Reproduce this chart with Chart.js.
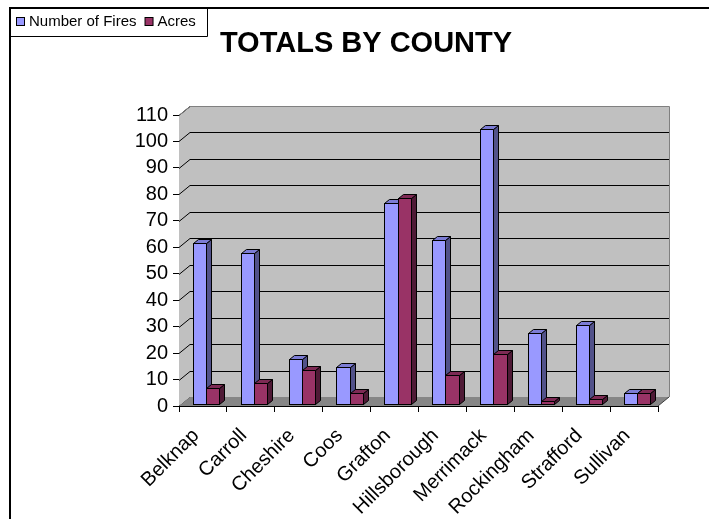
<!DOCTYPE html>
<html><head><meta charset="utf-8">
<script src="https://cdn.jsdelivr.net/npm/chart.js@4.4.0/dist/chart.umd.min.js"></script>
<style>html,body{margin:0;padding:0;background:#fff;}canvas{display:block;}</style>
</head><body>
<canvas id="c" width="709" height="519"></canvas>
<script>
const categories = ['Belknap','Carroll','Cheshire','Coos','Grafton','Hillsborough','Merrimack','Rockingham','Strafford','Sullivan'];
const numberOfFires = [61, 57, 17, 14, 76, 62, 104, 27, 30, 4];
const acres = [6, 8, 13, 4, 78, 11, 19, 1, 2, 4];
const seriesNames = ['Number of Fires', 'Acres'];
const yMin = 0, yMax = 110, yStep = 10;
const chartTitle = 'TOTALS BY COUNTY';

const FRONT = ['#9999FF', '#993366'];
const SIDE = ['#52528a', '#4f1a36'];
const TOP = ['#7c7cd4', '#7d2a54'];
const DEPTH = {x: 11, y: -9};
const BAR_DEPTH = {x: 5, y: -4};
const BAR_SHIFT = {x: 3, y: -2};
const FONT = '"Liberation Sans", Arial, sans-serif';

const scenePlugin = {
  id: 'scene',
  beforeDatasetsDraw(chart) {
    const {ctx, chartArea: a, scales: {y}} = chart;
    const L = a.left, R = a.right, T = a.top, B = a.bottom, dx = DEPTH.x, dy = DEPTH.y;
    ctx.save();
    ctx.fillStyle = '#C0C0C0';
    ctx.beginPath(); ctx.moveTo(L, B); ctx.lineTo(L, T); ctx.lineTo(L + dx, T + dy); ctx.lineTo(L + dx, B + dy); ctx.closePath(); ctx.fill();
    ctx.fillRect(L + dx, T + dy, R - L, B - T);
    ctx.strokeStyle = '#000'; ctx.lineWidth = 1;
    y.ticks.forEach(t => {
      const py = Math.round(y.getPixelForValue(t.value)) + 0.5;
      ctx.beginPath(); ctx.moveTo(L, py); ctx.lineTo(L + dx, py + dy); ctx.lineTo(R + dx, py + dy); ctx.stroke();
    });
    ctx.strokeStyle = '#808080';
    ctx.beginPath(); ctx.moveTo(L, T + 0.5); ctx.lineTo(L + dx, T + dy + 0.5); ctx.lineTo(R + dx + 0.5, T + dy + 0.5); ctx.lineTo(R + dx + 0.5, B + dy); ctx.stroke();
    ctx.fillStyle = '#868686';
    ctx.beginPath(); ctx.moveTo(L, B); ctx.lineTo(R, B); ctx.lineTo(R + dx, B + dy); ctx.lineTo(L + dx, B + dy); ctx.closePath(); ctx.fill();
    ctx.strokeStyle = '#404040';
    ctx.beginPath(); ctx.moveTo(R, B); ctx.lineTo(R + dx, B + dy); ctx.stroke();

    ctx.translate(BAR_SHIFT.x, BAR_SHIFT.y);
    const metas = [chart.getDatasetMeta(0), chart.getDatasetMeta(1)];
    for (let k = 0; k < categories.length; k++) {
      metas.forEach((meta, i) => {
        const bar = meta.data[k];
        const {x, y: top, base, width} = bar.getProps(['x', 'y', 'base', 'width'], true);
        const l = Math.round(x - width / 2) + 0.5, r = Math.round(x + width / 2) + 0.5;
        const t = Math.round(top) + 0.5, b = Math.round(base) + 0.5;
        const bx = BAR_DEPTH.x, by = BAR_DEPTH.y;
        ctx.lineWidth = 1; ctx.strokeStyle = '#000';
        ctx.fillStyle = FRONT[i];
        ctx.fillRect(l, t, r - l, b - t); ctx.strokeRect(l, t, r - l, b - t);
        ctx.fillStyle = SIDE[i];
        ctx.beginPath(); ctx.moveTo(r, b); ctx.lineTo(r, t); ctx.lineTo(r + bx, t + by); ctx.lineTo(r + bx, b + by); ctx.closePath(); ctx.fill(); ctx.stroke();
        ctx.fillStyle = TOP[i];
        ctx.beginPath(); ctx.moveTo(l, t); ctx.lineTo(r, t); ctx.lineTo(r + bx, t + by); ctx.lineTo(l + bx, t + by); ctx.closePath(); ctx.fill(); ctx.stroke();
      });
    }
    ctx.restore();
    return false;
  },
  afterDraw(chart) {
    const ctx = chart.ctx;
    ctx.save();
    ctx.strokeStyle = '#000'; ctx.lineWidth = 2;
    ctx.beginPath(); ctx.moveTo(10, 530); ctx.lineTo(10, 8); ctx.lineTo(720, 8); ctx.stroke();
    ctx.lineWidth = 1;
    ctx.beginPath(); ctx.moveTo(10, 36.5); ctx.lineTo(207.5, 36.5); ctx.lineTo(207.5, 8); ctx.stroke();
    ctx.font = '15px ' + FONT; ctx.textBaseline = 'middle'; ctx.textAlign = 'left';
    let x = 16;
    chart.data.datasets.forEach((ds) => {
      ctx.fillStyle = ds.backgroundColor; ctx.fillRect(x + 0.5, 17.5, 8, 8);
      ctx.strokeStyle = '#000'; ctx.strokeRect(x + 0.5, 17.5, 8, 8);
      ctx.fillStyle = '#000'; ctx.fillText(ds.label, x + 13, 22);
      x += 13 + ctx.measureText(ds.label).width + 8;
    });
    ctx.restore();
  }
};

new Chart(document.getElementById('c'), {
  type: 'bar',
  data: {
    labels: categories,
    datasets: [
      {label: seriesNames[0], data: numberOfFires, backgroundColor: FRONT[0], borderColor: '#000', borderWidth: 1},
      {label: seriesNames[1], data: acres, backgroundColor: FRONT[1], borderColor: '#000', borderWidth: 1}
    ]
  },
  plugins: [scenePlugin],
  options: {
    responsive: false,
    animation: false,
    events: [],
    layout: {padding: {left: 74, right: 51, top: 0, bottom: 0}},
    datasets: {bar: {categoryPercentage: 0.55, barPercentage: 1}},
    plugins: {
      legend: {display: false},
      tooltip: {enabled: false},
      title: {
        display: true, text: chartTitle, color: '#000',
        font: {family: FONT, size: 29, weight: 'bold'},
        padding: {top: 27, bottom: 53.2}
      }
    },
    scales: {
      x: {
        grid: {display: true, drawOnChartArea: false, drawTicks: true, tickLength: 6, color: '#000', offset: true},
        border: {display: true, color: '#000', width: 1},
        ticks: {color: '#000', font: {family: FONT, size: 20}, minRotation: 45, maxRotation: 45, autoSkip: false, padding: 12, labelOffset: -7},
        afterFit(scale) { scale.height = 113; }
      },
      y: {
        min: yMin, max: yMax,
        grid: {display: true, drawOnChartArea: false, drawTicks: true, tickLength: 6, color: '#000'},
        border: {display: true, color: '#000', width: 1},
        ticks: {stepSize: yStep, autoSkip: false, color: '#000', font: {family: FONT, size: 20}, padding: 5},
        afterFit(scale) { scale.width = 105; }
      }
    }
  }
});
</script>
</body></html>
